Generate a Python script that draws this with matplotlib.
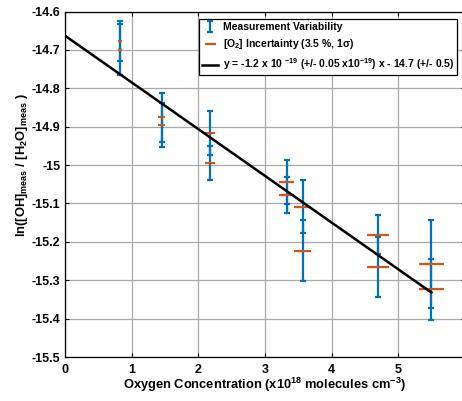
import matplotlib
matplotlib.use("Agg")
import matplotlib.pyplot as plt

plt.rcParams['font.family'] = ['Liberation Sans', 'DejaVu Sans']
plt.rcParams['font.weight'] = 'bold'
plt.rcParams['mathtext.fontset'] = 'custom'
plt.rcParams['mathtext.rm'] = 'Liberation Sans:bold'
plt.rcParams['mathtext.bf'] = 'Liberation Sans:bold'
plt.rcParams['mathtext.it'] = 'Liberation Sans:bold'
plt.rcParams['mathtext.default'] = 'rm'

# Data (x in 1e18 molecules cm^-3)
o2_conc = [0.825, 0.825, 1.451, 1.451, 2.176, 2.176, 3.326, 3.326,
           3.566, 3.566, 4.701, 4.701, 5.496, 5.496]
ln_ratio = [-14.677, -14.699, -14.875, -14.896, -14.917, -14.995, -15.044, -15.077,
            -15.108, -15.223, -15.181, -15.265, -15.258, -15.324]
meas_err = [0.052, 0.066, 0.064, 0.057, 0.058, 0.045, 0.057, 0.047,
            0.068, 0.080, 0.051, 0.078, 0.115, 0.079]
o2_rel_unc = 0.035

fit_x = [0.0, 5.496]
fit_y = [-14.663, -15.332]

x_ticks = [0, 1, 2, 3, 4, 5]
y_ticks = [-14.6, -14.7, -14.8, -14.9, -15.0, -15.1, -15.2, -15.3, -15.4, -15.5]
y_tick_labels = ['-14.6', '-14.7', '-14.8', '-14.9', '-15', '-15.1', '-15.2', '-15.3', '-15.4', '-15.5']

W, H = 462, 401
fig = plt.figure(figsize=(W / 100, H / 100), dpi=100)
left, right, top, bottom = 65.0, 465.0, 11.5, 357.0
ax = fig.add_axes([left / W, (H - bottom) / H, (right - left) / W, (bottom - top) / H])

blue = '#0072BD'
orange = '#D95319'

h1 = ax.errorbar(o2_conc, ln_ratio, yerr=meas_err, fmt='none', ecolor=blue,
                 elinewidth=1.6, capsize=2.2, capthick=1.6, zorder=3)
xerr = [o2_rel_unc * v for v in o2_conc]
h2 = ax.errorbar(o2_conc, ln_ratio, xerr=xerr, fmt='none', ecolor=orange,
                 elinewidth=1.6, capsize=0, zorder=4)
h3, = ax.plot(fit_x, fit_y, color='black', lw=1.8, zorder=5)

ax.set_xlim(0, 6)
ax.set_ylim(-15.5, -14.6)
ax.set_xticks(x_ticks)
ax.set_xticklabels([str(t) for t in x_ticks])
ax.set_yticks(y_ticks)
ax.set_yticklabels(y_tick_labels)
ax.tick_params(direction='in', length=3, width=0.8, labelsize=9, top=True, right=True)
ax.tick_params(axis='x', pad=5)
ax.tick_params(axis='y', pad=3.5)
for lab in ax.get_xticklabels() + ax.get_yticklabels():
    lab.set_fontweight('bold')
ax.grid(True, color='#a8a8a8', lw=0.9)
ax.set_axisbelow(True)
for s in ax.spines.values():
    s.set_linewidth(0.9)

ax.set_xlabel('Oxygen Concentration (x10$^{18}$ molecules cm$^{-3}$)', fontsize=9.3, fontweight='bold')
ax.xaxis.set_label_coords((265 - left) / (right - left), -(385 - bottom) / (bottom - top))
ax.xaxis.label.set_verticalalignment('center')
ax.set_ylabel('ln([OH]$_{meas}$ / [H$_2$O]$_{meas}$ )', fontsize=9.3, fontweight='bold')
ax.yaxis.set_label_coords(-(left - 22) / (right - left), (bottom - 165) / (bottom - top))
ax.yaxis.label.set_verticalalignment('center')

leg = ax.legend([h1, h2, h3],
                ['Measurement Variability',
                 '[O$_2$] Incertainty (3.5 %, 1σ)',
                 'y = -1.2 x 10 $^{-19}$ (+/- 0.05 x10$^{-19}$) x - 14.7 (+/- 0.5)'],
                loc='upper right', bbox_to_anchor=(457 / W, 1 - 19 / H),
                bbox_transform=fig.transFigure, fontsize=7.5, frameon=True,
                fancybox=False, framealpha=1, edgecolor='black',
                handlelength=1.55, handletextpad=0.4, borderpad=0.3, labelspacing=0.5,
                borderaxespad=0)
leg.get_frame().set_linewidth(0.9)
for t in leg.get_texts():
    t.set_fontweight('bold')

fig.savefig('out.png', dpi=100)
